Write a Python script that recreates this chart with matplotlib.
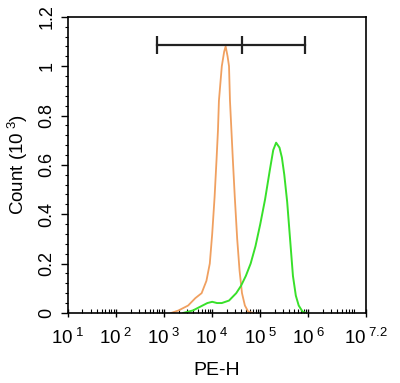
import numpy as np
import matplotlib.pyplot as plt
from matplotlib.ticker import FixedLocator, AutoMinorLocator

plt.rcParams['font.family'] = 'Liberation Sans'
plt.rcParams['mathtext.fontset'] = 'custom'
plt.rcParams['mathtext.rm'] = 'Liberation Sans'
plt.rcParams['mathtext.it'] = 'Liberation Sans'

# log10(PE-H) and counts (x10^3)
orange_logx = [3.15, 3.3, 3.5, 3.65, 3.78, 3.88, 3.95, 4.0, 4.05, 4.09, 4.12, 4.14, 4.17, 4.2,
               4.25, 4.28, 4.32, 4.35, 4.37, 4.4, 4.43, 4.47, 4.52, 4.57, 4.62, 4.68, 4.75, 4.85]
orange_y = [0, 0.01, 0.03, 0.06, 0.08, 0.13, 0.2, 0.32, 0.47, 0.62, 0.74, 0.86, 0.93, 1.0,
            1.06, 1.08, 1.04, 1.0, 0.86, 0.74, 0.62, 0.47, 0.3, 0.17, 0.08, 0.03, 0.005, 0]

green_logx = [3.4, 3.6, 3.75, 3.9, 4.0, 4.1, 4.2, 4.35, 4.5, 4.6, 4.7, 4.8, 4.9, 5.0, 5.1,
              5.2, 5.27, 5.33, 5.4, 5.45, 5.5, 5.56, 5.62, 5.68, 5.74, 5.8, 5.88, 5.95]
green_y = [0, 0.01, 0.025, 0.04, 0.045, 0.04, 0.04, 0.05, 0.08, 0.11, 0.15, 0.2, 0.27, 0.36,
           0.46, 0.58, 0.66, 0.69, 0.67, 0.63, 0.56, 0.45, 0.3, 0.15, 0.07, 0.03, 0.005, 0]

# gate marker (log10 positions) and height
gate_logx = [2.85, 4.62, 5.93]
gate_y = 1.086

tick_exps = [1, 2, 3, 4, 5, 6, 7.2]
tick_labels = ['$10^{\\ 1}$', '$10^{\\ 2}$', '$10^{\\ 3}$', '$10^{\\ 4}$', '$10^{\\ 5}$',
               '$10^{\\ 6}$', '$10^{\\ 7.2}$']

fig = plt.figure(figsize=(4, 3.83), dpi=100)
ax = fig.add_axes([0.17, 0.183, 0.745, 0.773])

ax.plot(10 ** np.array(orange_logx), orange_y, color='#f0a060', lw=1.3)
ax.plot(10 ** np.array(green_logx), green_y, color='#38e02a', lw=1.4)

gx = 10 ** np.array(gate_logx)
ax.plot([gx[0], gx[-1]], [gate_y, gate_y], color='#222222', lw=1.6)
ax.vlines(gx, gate_y - 0.036, gate_y + 0.036, color='#222222', lw=1.6)

ax.set_xscale('log')
ax.set_xlim(10 ** 1, 10 ** 7.2)
ax.set_ylim(0, 1.2)

ax.xaxis.set_major_locator(FixedLocator([10 ** e for e in tick_exps]))
ax.set_xticklabels(tick_labels, fontsize=13.5)
minor = [m * 10 ** d for d in range(1, 8) for m in range(2, 10) if m * 10 ** d < 10 ** 7.2]
ax.xaxis.set_minor_locator(FixedLocator(minor))
ax.tick_params(axis='x', which='major', direction='inout', length=6, width=1, pad=8)
ax.tick_params(axis='x', which='minor', direction='in', length=3, width=0.8)

ax.set_yticks([0, 0.2, 0.4, 0.6, 0.8, 1.0, 1.2])
ax.set_yticklabels(['0', '0.2', '0.4', '0.6', '0.8', '1', '1.2'], rotation=90, va='center', fontsize=13)
ax.yaxis.set_minor_locator(AutoMinorLocator(5))
ax.tick_params(axis='y', which='major', direction='out', length=5, width=1, pad=4)
ax.tick_params(axis='y', which='minor', direction='out', length=2.5, width=0.8)

for s in ax.spines.values():
    s.set_linewidth(1.2)

ax.set_xlabel('PE-H', fontsize=14, labelpad=10)
ax.set_ylabel('Count $(10^{\\ 3})$', fontsize=13.5, labelpad=6)

plt.savefig('out.png', dpi=100)
